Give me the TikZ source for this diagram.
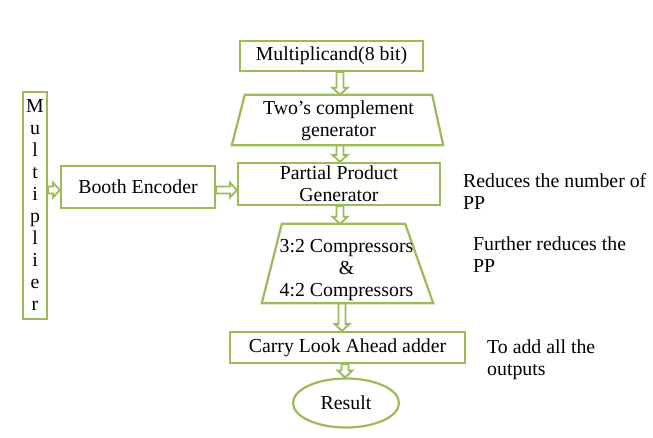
\documentclass[tikz,border=0pt]{standalone}
\usepackage{fontspec}
\setmainfont{Liberation Serif}
\usetikzlibrary{calc,shapes.geometric}
\definecolor{olivegr}{HTML}{9BBB59}
\newcommand\blkdown[3]{%
  \draw[blk] let \p1=(#1 -| #3), \p2=(#2 -| #3) in
    (\x1-3.5pt,\y1) -- (\x1-3.5pt,\y2+7pt) -- (\x1-7.5pt,\y2+7pt) -- (\x2,\y2)
    -- (\x1+7.5pt,\y2+7pt) -- (\x1+3.5pt,\y2+7pt) -- (\x1+3.5pt,\y1) -- cycle;}
\newcommand\blkright[3]{%
  \draw[blk] let \p1=(#1 |- #3), \p2=(#2 |- #3) in
    (\x1,\y1-3.5pt) -- (\x2-7pt,\y1-3.5pt) -- (\x2-7pt,\y1-7.5pt) -- (\x2,\y2)
    -- (\x2-7pt,\y1+7.5pt) -- (\x2-7pt,\y1+3.5pt) -- (\x1,\y1+3.5pt) -- cycle;}
\begin{document}
\begin{tikzpicture}[x=1pt,y=-1pt,
  txt/.style={inner sep=0pt, align=center, font=\fontsize{19.8}{22}\selectfont},
  box/.style={txt, draw=olivegr, line width=2.2pt},
  ln/.style={draw=olivegr, line width=2.2pt, line join=miter},
  blk/.style={draw=olivegr, line width=1.8pt, line join=miter},
  note/.style={anchor=north west, inner sep=0pt, align=left, font=\fontsize{19.8}{22}\selectfont}]
\fill[white] (0,0) rectangle (653,438);
\useasboundingbox (0,0) rectangle (653,438);

\node[box, minimum width=183pt, minimum height=30pt] (mc) at (331.5,56) {Multiplicand(8 bit)};
\node[txt, minimum width=211pt, minimum height=50pt] (tc) at (337.5,120) {};
\draw[ln] ($(tc.north west)+(13,0)$) -- ($(tc.north east)+(-11,0)$) -- (tc.south east) -- (tc.south west) -- cycle;
\node[txt] (tct) at ($(tc.center)+(1,1)$) {Two’s complement\\generator};
\node[box, minimum width=202pt, minimum height=42pt] (ppg) at (339,184) {Partial Product\\Generator};
\node[txt, minimum width=171pt, minimum height=79pt] (cmp) at (347.5,263.5) {};
\draw[ln] ($(cmp.north west)+(20,0)$) -- ($(cmp.north east)+(-28,0)$) -- (cmp.south east) -- (cmp.south west) -- cycle;
\node[txt] (cmpt) at ($(cmp.center)+(-1,7)$) {3:2 Compressors\\\&\\4:2 Compressors};
\node[box, minimum width=235pt, minimum height=31pt] (cla) at (347.5,347.5) {Carry Look Ahead adder};
\node[box, ellipse, minimum width=106pt, minimum height=49pt] (res) at (346,403) {Result};
\node[box, minimum width=24pt, minimum height=227pt] (mult) at (35,205.5) {M\\u\\l\\t\\i\\p\\l\\i\\e\\r};
\node[box, minimum width=154pt, minimum height=42pt] (be) at (138,187) {Booth Encoder};

\coordinate (ax1) at (340,0);
\coordinate (ax2) at (340,0);
\coordinate (ax3) at (340,0);
\coordinate (ax4) at (342,0);
\coordinate (ax5) at (345,0);
\coordinate (ay) at (0,190);

\blkdown{mc.south}{tc.north}{ax1}
\blkdown{tc.south}{ppg.north}{ax2}
\blkdown{ppg.south}{cmp.north}{ax3}
\blkdown{cmp.south}{cla.north}{ax4}
\blkdown{cla.south}{res.north}{ax5}
\blkright{mult.east}{be.west}{ay}
\blkright{be.east}{ppg.west}{ay}

\node[note] (n1) at (463,173.5) {Reduces the number of\\PP};
\node[note] (n2) at (473,236.5) {Further reduces the\\PP};
\node[note] (n3) at (487,339.5) {To add all the\\outputs};
\end{tikzpicture}
\end{document}
